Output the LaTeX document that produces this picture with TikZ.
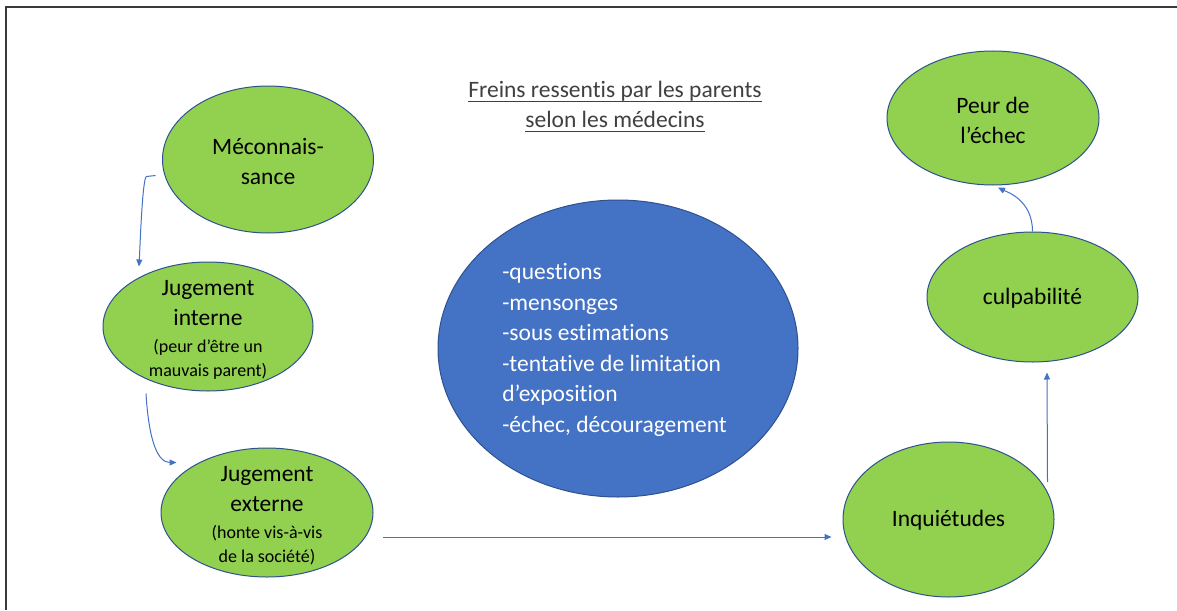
\documentclass[tikz,border=0pt]{standalone}
\usepackage{fontspec}
\setmainfont{Carlito}[Ligatures=NoCommon]
\usetikzlibrary{shapes.geometric,arrows.meta,calc}
\definecolor{gfill}{HTML}{92D050}
\definecolor{edgec}{HTML}{2F528F}
\definecolor{bfill}{HTML}{4472C4}
\definecolor{arrc}{HTML}{4472C4}
\definecolor{titlec}{HTML}{404040}
\definecolor{framec}{HTML}{3A3A3A}
\newcommand{\smtxt}[1]{{\fontsize{18}{24}\selectfont #1}}
\newcommand{\ulin}[1]{\setbox0=\hbox{#1}\rlap{\rule[-4.5pt]{\wd0}{1.2pt}}\box0}
\begin{document}
\begin{tikzpicture}[x=1pt,y=-1pt,
  ell/.style={ellipse, draw=edgec, line width=1pt, inner sep=0pt},
  gell/.style={ell, fill=gfill},
  bell/.style={ell, fill=bfill},
  lbl/.style={align=center, font=\fontsize{23.5}{30}\selectfont, text=black, inner sep=0pt},
  arr/.style={draw=arrc, line width=1pt, -{Triangle[length=7pt,width=6pt]}}
]
\useasboundingbox (0,0) rectangle (1177,610);
\fill[white] (0,0) rectangle (1177,610);
\draw[framec, line width=1.5pt] (6,610) -- (6,7) -- (1177,7);

% ellipses
\node[gell, minimum width=211pt, minimum height=147pt] (mec) at (268,159.5) {};
\node[gell, minimum width=210pt, minimum height=129pt] (ji) at (208,326.5) {};
\node[gell, minimum width=212pt, minimum height=129pt] (je) at (267,512.5) {};
\node[bell, minimum width=360pt, minimum height=297pt] (blue) at (618,348.5) {};
\node[gell, minimum width=212pt, minimum height=134pt] (peur) at (993,118) {};
\node[gell, minimum width=211pt, minimum height=130pt] (culp) at (1032.5,297) {};
\node[gell, minimum width=211pt, minimum height=155pt] (inq) at (948.5,519.5) {};

% labels
\node[lbl, text=titlec] (title) at (615,107) {\ulin{Freins ressentis par les parents}\\\ulin{selon les médecins}};
\node[lbl] (mect) at (268,162) {Méconnais-\\sance};
\node[lbl] (jit) at (208,330) {Jugement\\interne\\[-3pt]\smtxt{(peur d’être un}\\[-6pt]\smtxt{mauvais parent)}};
\node[lbl] (jet) at (267,516) {Jugement\\externe\\[-3pt]\smtxt{(honte vis-à-vis}\\[-6pt]\smtxt{de la société)}};
\node[lbl, align=left, text=white, font=\fontsize{23.5}{30.6}\selectfont] (bluet) at (614.5,350) {-questions\\-mensonges\\-sous estimations\\-tentative de limitation\\d’exposition\\-échec, découragement};
\node[lbl] (peurt) at (993,120) {Peur de\\l’échec};
\node[lbl] (culpt) at (1032.5,298) {culpabilité};
\node[lbl] (inqt) at (948.5,520) {Inquiétudes};

% connector end points
\coordinate (a1s) at ($(mec.west)+(-6.5,16)$);
\coordinate (a1e) at ($(ji.north)+(-69,5)$);
\coordinate (a2s) at ($(ji.south)+(-62,2)$);
\coordinate (a2e) at ($(je.west)+(16,-50)$);
\coordinate (a3s) at ($(je.east)+(9,24.5)$);
\coordinate (a3e) at ($(inq.west)+(-11,17.5)$);
\coordinate (a4s) at ($(inq.east)+(-7,-37.5)$);
\coordinate (a4e) at ($(culp.south)+(14.5,10)$);
\coordinate (a5e) at ($(peur.south)+(5,2)$);

% connectors
\draw[arr] (a1s) -- ++(-9,1) .. controls +(-4,0) and +(1,-20) .. (a1e);
\draw[arr] (a2s) .. controls +(3,50) and +(-18,0) .. (a2e);
\draw[arr] (a3s) -- (a3e);
\draw[arr] (a4s) -- (a4e);
\draw[arr] (culp.north) .. controls +(0,-32) and +(8,4) .. (a5e);
\end{tikzpicture}
\end{document}
